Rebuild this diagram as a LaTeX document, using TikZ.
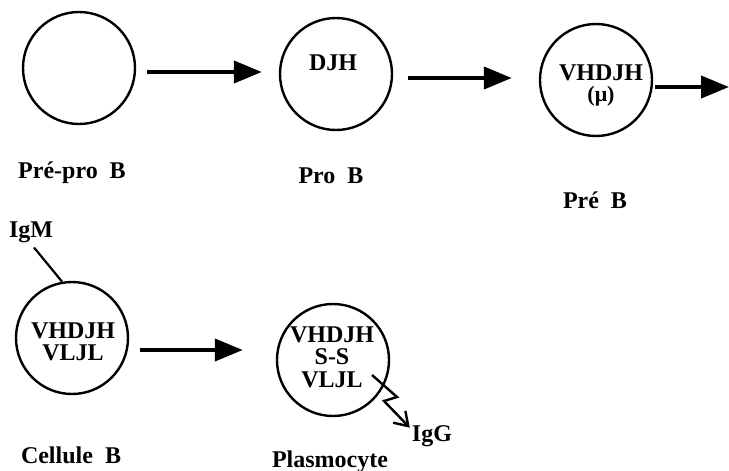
\documentclass[tikz,border=0pt]{standalone}
\usepackage{fontspec}
\setmainfont{Liberation Serif}
\usetikzlibrary{arrows.meta}
\begin{document}
\begin{tikzpicture}[x=1pt,y=-1pt,
  cell/.style={draw,line width=2.4pt,circle,minimum size=112pt,inner sep=0pt},
  lbl/.style={font=\fontsize{24}{26}\selectfont\bfseries,inner sep=0pt,anchor=base},
  inner/.style={font=\fontsize{24}{#1}\selectfont\bfseries,inner sep=0pt,align=center},
  bigarrow/.style={line width=4pt,-{Triangle[length=28pt,width=22pt]}},
  zig/.style={line width=2.4pt,line join=miter,-{Straight Barb[length=13pt,width=17pt,line width=2.4pt]}},
  stem/.style={line width=2.2pt}]
\useasboundingbox (0,0) rectangle (729,471);
% cells
\node[cell] (c1) at (79,68) {};
\node[cell] (c2) at (336,74) {};
\node[cell] (c3) at (596,80) {};
\node[cell] (c4) at (72,338) {};
\node[cell] (c5) at (333,360) {};
% inner texts
\node[lbl] (t2) at (333,70) {DJH};
\node[inner=21] (t3) at (601,85) {VHDJH\\{\fontsize{22}{21}\selectfont(μ)}};
\node[inner=22] (t4) at (73,342) {VHDJH\\VLJL};
\node[inner=22.5] (t5) at (332,357) {VHDJH\\S-S\\VLJL};
% names
\node[lbl] (n1) at (72,178) {Pré-pro\ \ B};
\node[lbl] (n2) at (331,183) {Pro\ \ B};
\node[lbl] (n3) at (595,208) {Pré\ \ B};
\node[lbl] (n4) at (71,463) {Cellule\ \ B};
\node[lbl] (n5) at (330,467) {Plasmocyte};
\node[lbl] (igm) at (31,237) {IgM};
\node[lbl] (igg) at (432,441) {IgG};
\coordinate (out) at (729,87);
% arrows
\draw[bigarrow] ([shift={(11,4)}]c1.east) -- ([shift={(-17,-2)}]c2.west);
\draw[bigarrow] ([shift={(15,4)}]c2.east) -- ([shift={(-27,-2)}]c3.west);
\draw[bigarrow] ([shift={(2,7)}]c3.east) -- (out);
\draw[bigarrow] ([shift={(11,12)}]c4.east) -- ([shift={(-33,-10)}]c5.west);
% IgM stem
\draw[stem] ([shift={(3,5)}]igm.south) -- (c4.100);
% IgG secretion
\draw[zig] ([shift={(39,15)}]c5.center) -- ++(25,22) -- ++(-13,4) -- ([shift={(-2,-8)}]igg.west);
\end{tikzpicture}
\end{document}
